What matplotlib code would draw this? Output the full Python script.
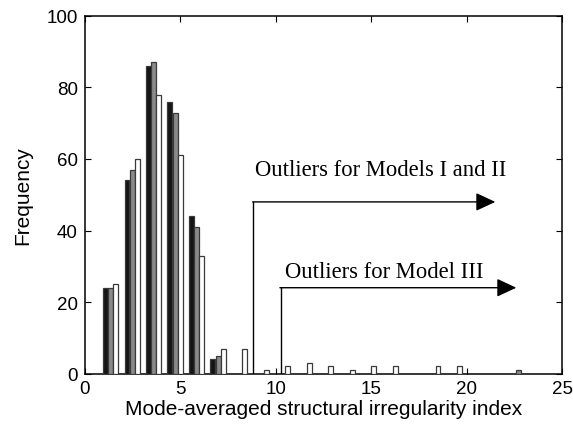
import matplotlib as mpl
import matplotlib.pyplot as plt
import numpy as np

mpl.rcParams.update({"font.family": "Liberation Sans"})

# histogram bin centres and counts for the three models
bin_centers = [1.35, 2.48, 3.60, 4.73, 5.85, 6.98, 8.10, 9.23, 10.35, 11.48,
               12.60, 13.73, 14.85, 15.98, 17.10, 18.23, 19.35, 20.48, 21.60, 22.73]
model_1 = [24, 54, 86, 76, 44, 4, 0, 0, 0, 0, 0, 0, 0, 0, 0, 0, 0, 0, 0, 0]
model_2 = [24, 57, 87, 73, 41, 5, 0, 0, 0, 0, 0, 0, 0, 0, 0, 0, 0, 0, 0, 1]
model_3 = [25, 60, 78, 61, 33, 7, 7, 1, 2, 3, 2, 1, 2, 2, 0, 2, 2, 0, 0, 0]

# outlier thresholds (x start, arrow height, arrow tip)
thr_12 = (8.82, 48, 21.5)
thr_3 = (10.25, 24, 22.6)

fig = plt.figure(figsize=(5.73, 4.35), dpi=100)
ax = fig.add_axes([0.148, 0.139, 0.833, 0.822])

x = np.array(bin_centers)
w = 0.26
EDGE = "#3a3a3a"
ax.bar(x - 0.27, model_1, width=w, color="#151515", edgecolor=EDGE, linewidth=0.9, zorder=3)
ax.bar(x, model_2, width=w, color="#8a8a8a", edgecolor=EDGE, linewidth=0.9, zorder=3)
ax.bar(x + 0.27, model_3, width=w, color="white", edgecolor=EDGE, linewidth=0.9, zorder=3)

# outlier arrows
for x0, yh, tip in (thr_12, thr_3):
    ax.plot([x0, x0], [0, yh], color="black", lw=1.0, zorder=4)
    ax.annotate("", xy=(tip, yh), xytext=(x0 - 0.03, yh),
                arrowprops=dict(arrowstyle="-|>,head_length=0.6,head_width=0.28",
                                mutation_scale=20, color="black", lw=1.0,
                                shrinkA=0, shrinkB=0), zorder=4)

ax.text(8.9, 57, "Outliers for Models I and II", family="Liberation Serif",
        fontsize=16.3, va="center", ha="left")
ax.text(10.5, 28.5, "Outliers for Model III", family="Liberation Serif",
        fontsize=16.3, va="center", ha="left")

ax.set_xlim(0, 25)
ax.set_ylim(0, 100)
ax.set_xticks([0, 5, 10, 15, 20, 25])
ax.set_yticks([0, 20, 40, 60, 80, 100])
ax.tick_params(direction="in", length=4, width=0.8, labelsize=13.5,
               top=True, right=True, pad=5)
for s in ax.spines.values():
    s.set_linewidth(1.1)

ax.set_xlabel("Mode-averaged structural irregularity index", fontsize=15, labelpad=1)
ax.set_ylabel("Frequency", fontsize=15, labelpad=10)

fig.savefig("out.png", dpi=100, facecolor="white")
